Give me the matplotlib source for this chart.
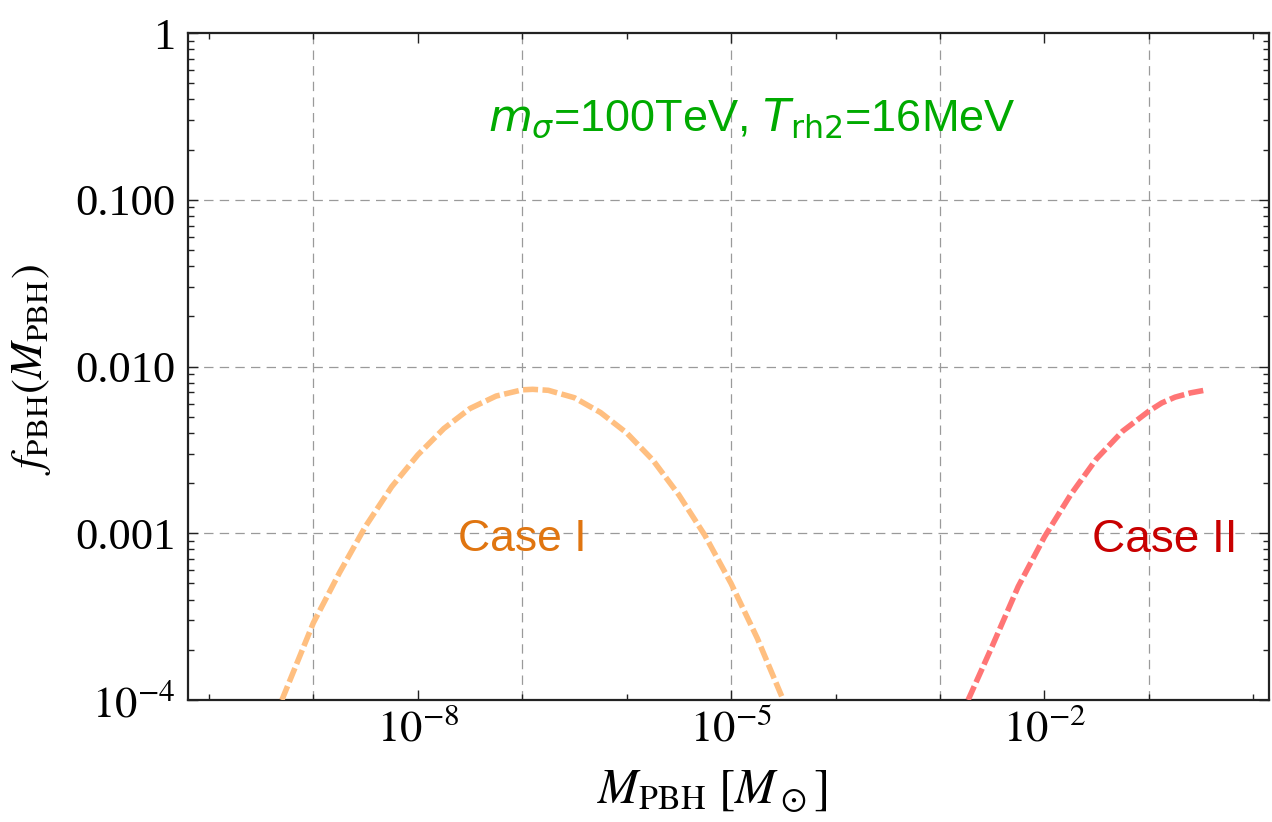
#!/usr/bin/env python3
"""PBH abundance f_PBH(M_PBH) for the two cases, log-log."""

import matplotlib

matplotlib.use("Agg")
import matplotlib.pyplot as plt
from matplotlib.ticker import FixedLocator, FixedFormatter, LogLocator, NullFormatter

plt.rcParams["font.family"] = ["Liberation Serif", "DejaVu Serif"]
plt.rcParams["mathtext.fontset"] = "stix"

# values
case1_mass = [5.0e-10, 1.0e-9, 1.78e-9, 3.16e-9, 5.62e-9, 1.0e-8, 1.78e-8, 3.16e-8,
              5.62e-8, 1.0e-7, 1.26e-7, 1.78e-7, 3.16e-7, 5.62e-7, 1.0e-6, 1.78e-6,
              3.16e-6, 5.62e-6, 1.0e-5, 1.78e-5, 3.16e-5]
case1_f = [1.0e-4, 2.9e-4, 5.8e-4, 1.1e-3, 1.9e-3, 2.95e-3, 4.25e-3, 5.6e-3,
           6.65e-3, 7.25e-3, 7.3e-3, 7.2e-3, 6.5e-3, 5.3e-3, 4.0e-3, 2.75e-3,
           1.7e-3, 9.7e-4, 5.0e-4, 2.35e-4, 1.0e-4]

case2_mass = [1.86e-3, 3.16e-3, 5.62e-3, 1.0e-2, 1.78e-2, 3.16e-2, 5.62e-2, 0.1,
              0.133, 0.178, 0.251, 0.339]
case2_f = [1.0e-4, 2.1e-4, 4.8e-4, 9.5e-4, 1.7e-3, 2.8e-3, 4.1e-3, 5.4e-3,
           6.05e-3, 6.55e-3, 6.95e-3, 7.2e-3]

x_label_ticks = [1e-8, 1e-5, 1e-2]
x_label_text = [r"$10^{-8}$", r"$10^{-5}$", r"$10^{-2}$"]
x_other_ticks = [1e-10, 1e-9, 1e-7, 1e-6, 1e-4, 1e-3, 1e-1, 1.0]
y_ticks = [1e-4, 1e-3, 1e-2, 1e-1, 1.0]
y_tick_text = [r"$10^{-4}$", "0.001", "0.010", "0.100", "1"]
x_grid = [1e-9, 1e-7, 1e-5, 1e-3, 1e-1]
y_grid = [1e-3, 1e-2, 1e-1]

fig = plt.figure(figsize=(12.72, 8.22), dpi=100)
ax = fig.add_axes([0.1478, 0.1484, 0.8498, 0.8114])
ax.set_xscale("log")
ax.set_yscale("log")
ax.set_xlim(10 ** -10.2, 10 ** 0.15)
ax.set_ylim(1e-4, 1.0)

for gx in x_grid:
    ax.axvline(gx, color="#9a9a9a", lw=0.9, ls=(0, (7.5, 5)), zorder=1)
for gy in y_grid:
    ax.axhline(gy, color="#9a9a9a", lw=0.9, ls=(0, (7.5, 5)), zorder=1)

ax.plot(case1_mass, case1_f, color="#ffbf80", lw=4.0, ls=(0, (2.7, 0.8)), zorder=3)
ax.plot(case2_mass, case2_f, color="#ff7575", lw=4.0, ls=(0, (2.7, 0.8)), zorder=3)

ax.text(1e-7, 10 ** -3.04, "Case I", color="#e07510", fontsize=32,
        family=["Liberation Sans"], ha="center", va="center", zorder=4)
ax.text(10 ** -0.85, 10 ** -3.04, "Case II", color="#c80000", fontsize=33,
        family=["Liberation Sans"], ha="center", va="center", zorder=4)
ax.text(10 ** -4.8, 0.31, r"$m_\sigma$=100TeV, $T_{\rm rh2}$=16MeV",
        color="#00aa00", fontsize=32.5, family=["Liberation Sans"],
        math_fontfamily="dejavusans", ha="center", va="center", zorder=4)

ax.xaxis.set_major_locator(FixedLocator(x_label_ticks))
ax.xaxis.set_major_formatter(FixedFormatter(x_label_text))
ax.xaxis.set_minor_locator(FixedLocator(x_other_ticks))
ax.xaxis.set_minor_formatter(NullFormatter())
ax.yaxis.set_major_locator(FixedLocator(y_ticks))
ax.yaxis.set_major_formatter(FixedFormatter(y_tick_text))
ax.yaxis.set_minor_locator(LogLocator(base=10, subs=range(2, 10)))
ax.yaxis.set_minor_formatter(NullFormatter())

ax.tick_params(which="both", direction="in", top=True, right=True,
               width=1.0, colors="#222222", labelcolor="black")
ax.tick_params(which="major", length=7, labelsize=32)
ax.tick_params(which="minor", length=4)
ax.tick_params(axis="x", which="major", pad=6)
ax.tick_params(axis="y", which="major", pad=9)
for sp in ax.spines.values():
    sp.set_linewidth(1.6)
    sp.set_color("#222222")

ax.set_xlabel(r"$M_{\rm PBH}\ [M_\odot]$", fontsize=35)
ax.set_ylabel(r"$f_{\rm PBH}(M_{\rm PBH})$", fontsize=32)
ax.xaxis.set_label_coords(0.485, -0.102)
ax.yaxis.set_label_coords(-0.125, 0.495)

fig.savefig("out.png", dpi=100)
